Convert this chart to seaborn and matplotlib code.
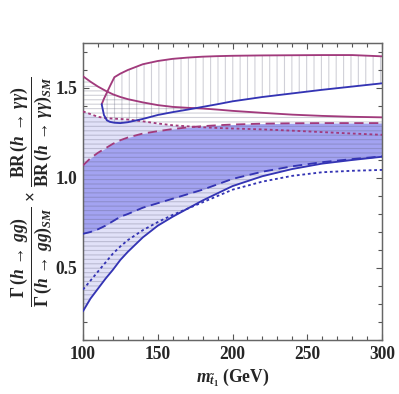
import numpy as np
import pandas as pd
import matplotlib
matplotlib.use("Agg")
import matplotlib.pyplot as plt
from matplotlib.ticker import MultipleLocator
import seaborn as sns

# --- data (stop mass in GeV vs. ratio) ---
m_grid = [100, 105, 110, 115, 120, 125, 130, 140, 150, 160, 170, 180, 190,
          200, 220, 240, 260, 280, 300]

blue_solid_low = [0.26, 0.33, 0.385, 0.44, 0.49, 0.545, 0.59, 0.67, 0.735, 0.785,
                  0.83, 0.875, 0.915, 0.955, 1.01, 1.05, 1.08, 1.10, 1.118]
blue_dotted_low = [0.38, 0.43, 0.48, 0.53, 0.58, 0.62, 0.655, 0.71, 0.755, 0.795,
                   0.83, 0.865, 0.90, 0.935, 0.98, 1.012, 1.032, 1.04, 1.045]
blue_dashed_low = [0.69, 0.70, 0.715, 0.735, 0.76, 0.785, 0.80, 0.835, 0.86, 0.885,
                   0.91, 0.935, 0.965, 0.995, 1.035, 1.065, 1.088, 1.105, 1.12]
mag_dashed = [1.07, 1.11, 1.14, 1.165, 1.19, 1.21, 1.225, 1.247, 1.26, 1.272,
              1.281, 1.288, 1.293, 1.297, 1.302, 1.304, 1.305, 1.305, 1.305]
mag_dotted = [1.37, 1.355, 1.34, 1.333, 1.33, 1.328, 1.325, 1.315, 1.303, 1.293,
              1.287, 1.282, 1.278, 1.275, 1.27, 1.263, 1.255, 1.247, 1.24]
mag_solid_desc = [1.565, 1.535, 1.508, 1.485, 1.465, 1.45, 1.438, 1.42, 1.405, 1.395,
                  1.39, 1.386, 1.38, 1.373, 1.362, 1.352, 1.345, 1.34, 1.337]

# closed region at the top (vertical hatching)
m_top = [112.5, 114, 116, 118, 121, 125, 130, 140, 150, 160, 170, 180, 190,
         200, 220, 240, 260, 280, 300]
mag_solid_top = [1.41, 1.44, 1.475, 1.51, 1.56, 1.58, 1.60, 1.632, 1.65, 1.662,
                 1.669, 1.674, 1.677, 1.679, 1.681, 1.682, 1.683, 1.683, 1.676]
blue_solid_top = [1.41, 1.35, 1.32, 1.312, 1.307, 1.305, 1.31, 1.328, 1.35, 1.366,
                  1.38, 1.395, 1.41, 1.426, 1.45, 1.47, 1.49, 1.508, 1.526]

x_ticks = [100, 150, 200, 250, 300]
y_ticks = [0.5, 1.0, 1.5]

MAG = "#a13a7c"
BLUE = "#3434b4"
DARK_FILL = "#a3a3f1"
LIGHT_FILL = "#e1e1f8"
HATCH = (0.35, 0.35, 0.45, 0.28)

# --- style ---
sns.set_style("ticks")
plt.rcParams["font.family"] = ["Liberation Serif", "DejaVu Serif"]
plt.rcParams["font.weight"] = "bold"
plt.rcParams["mathtext.fontset"] = "custom"
plt.rcParams["mathtext.rm"] = "Liberation Serif:bold"
plt.rcParams["mathtext.bf"] = "Liberation Serif:bold"
plt.rcParams["mathtext.it"] = "Liberation Serif:italic:bold"
plt.rcParams["mathtext.fallback"] = "stix"
plt.rcParams["hatch.linewidth"] = 0.6

DPI = 133
fig = plt.figure(figsize=(399 / DPI, 394 / DPI), dpi=DPI)
ax = fig.add_axes([83 / 399, 1 - 340 / 394, (382 - 83) / 399, (340 - 43) / 394])

lo = np.array(blue_solid_low)
light_top = np.maximum(mag_dashed, mag_dotted)

# fills
ax.fill_between(m_grid, lo, light_top, color=LIGHT_FILL, linewidth=0, zorder=1)
ax.fill_between(m_grid, blue_dashed_low, mag_dashed, color=DARK_FILL, linewidth=0, zorder=2)
ax.fill_between(m_grid, lo, mag_solid_desc, facecolor="none", edgecolor=HATCH,
                hatch="-----", linewidth=0, zorder=3)
ax.fill_between(m_top, blue_solid_top, mag_solid_top, facecolor="none", edgecolor=HATCH,
                hatch="|||", linewidth=0, zorder=3)

# lines
lw = 1.0
sns.lineplot(x=m_grid, y=blue_solid_low, ax=ax, color=BLUE, lw=lw, zorder=5)
sns.lineplot(x=m_grid, y=blue_dotted_low, ax=ax, color=BLUE, lw=lw,
             linestyle=(0, (1.5, 1.5)), zorder=5)
sns.lineplot(x=m_grid, y=blue_dashed_low, ax=ax, color=BLUE, lw=lw,
             linestyle=(0, (5, 3)), zorder=5)
sns.lineplot(x=m_grid, y=mag_dashed, ax=ax, color=MAG, lw=lw,
             linestyle=(0, (5, 3)), zorder=5)
sns.lineplot(x=m_grid, y=mag_dotted, ax=ax, color=MAG, lw=lw,
             linestyle=(0, (1.5, 1.5)), zorder=5)
sns.lineplot(x=m_grid, y=mag_solid_desc, ax=ax, color=MAG, lw=lw, zorder=5)
sns.lineplot(x=m_top, y=mag_solid_top, ax=ax, color=MAG, lw=lw, zorder=5, sort=False)
sns.lineplot(x=m_top, y=blue_solid_top, ax=ax, color=BLUE, lw=lw, zorder=5, sort=False)

# axes
ax.set_xlim(100, 300)
ax.set_ylim(0.1, 1.75)
ax.set_xticks(x_ticks)
ax.set_xticklabels([str(v) for v in x_ticks])
ax.set_yticks(y_ticks)
ax.set_yticklabels([f"{v:.1f}" for v in y_ticks])
ax.xaxis.set_minor_locator(MultipleLocator(10))
ax.yaxis.set_minor_locator(MultipleLocator(0.1))
ax.tick_params(which="both", direction="in", top=True, right=True, color="#555555",
               width=0.6, labelsize=9.5, pad=3)
ax.tick_params(which="major", length=3.5)
ax.tick_params(which="minor", length=2)
for s in ax.spines.values():
    s.set_color("#666666")
    s.set_linewidth(0.8)

ax.set_xlabel(r"$m_{\tilde{t}_1}$ (GeV)", fontsize=9.5, fontweight="bold")
ax.xaxis.set_label_coords(0.5, -0.09)
ax.set_ylabel(r"$\dfrac{\Gamma\,(h\,\rightarrow\,gg)}{\Gamma\,(h\,\rightarrow\,gg)_{SM}}"
              r"\,\times\,\dfrac{\mathrm{BR}\,(h\,\rightarrow\,\gamma\gamma)}"
              r"{\mathrm{BR}\,(h\,\rightarrow\,\gamma\gamma)_{SM}}$", fontsize=9.5)
ax.yaxis.set_label_coords(-0.098, 0.5)

fig.savefig("out.png", dpi=DPI)
